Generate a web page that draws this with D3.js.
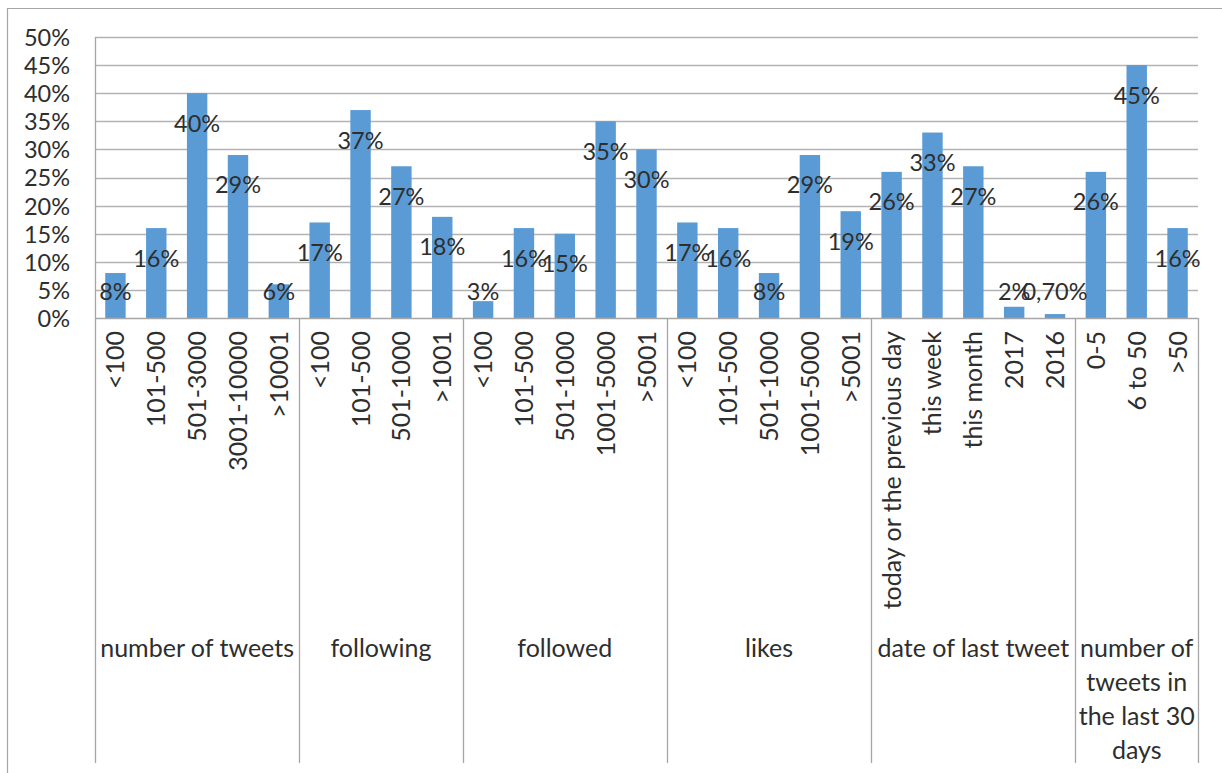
<!DOCTYPE html>
<html>
<head>
<meta charset="utf-8">
<script src="https://cdn.jsdelivr.net/npm/d3@7"></script>
<style>
  html, body { margin: 0; padding: 0; background: #fff; }
  svg text { font-family: Lato, "Open Sans", sans-serif; fill: #2e2e2e; }
</style>
</head>
<body>
<svg id="chart" width="1222" height="773"></svg>
<script>
// Survey groups, their answer categories and shares (%)
const groups = [
  "number of tweets",
  "following",
  "followed",
  "likes",
  "date of last tweet",
  "number of tweets in the last 30 days"
];
const categories = [
  ["<100", "101-500", "501-3000", "3001-10000", ">10001"],
  ["<100", "101-500", "501-1000", ">1001"],
  ["<100", "101-500", "501-1000", "1001-5000", ">5001"],
  ["<100", "101-500", "501-1000", "1001-5000", ">5001"],
  ["today or the previous day", "this week", "this month", "2017", "2016"],
  ["0-5", "6 to 50", ">50"]
];
const values = [
  [8, 16, 40, 29, 6],
  [17, 37, 27, 18],
  [3, 16, 15, 35, 30],
  [17, 16, 8, 29, 19],
  [26, 33, 27, 2, 0.7],
  [26, 45, 16]
];
const yTicks = [0, 5, 10, 15, 20, 25, 30, 35, 40, 45, 50];

(function draw() {
  // Flatten into one row per bar
  const rows = [];
  groups.forEach((g, gi) => {
    categories[gi].forEach((c, ci) => {
      rows.push({ group: gi, cat: c, value: values[gi][ci], idx: rows.length });
    });
  });

  const svg = d3.select("#chart");
  const plotLeft = 95, plotRight = 1198, plotTop = 37, plotBase = 318, frameBottom = 763;
  const numSize = 23.5;   // percentages
  const wordSize = 25;    // category and group names

  const x = d3.scaleBand().domain(rows.map(r => r.idx)).range([plotLeft, plotRight])
    .paddingInner(0.5).paddingOuter(0.25);
  const y = d3.scaleLinear().domain([0, 50]).range([plotBase, plotTop]);

  // outer chart frame (left and top edges)
  svg.append("path")
    .attr("d", "M7.5,773 V8.5 H1222")
    .attr("fill", "none").attr("stroke", "#a6a6a6").attr("stroke-width", 1.2);

  // horizontal gridlines
  svg.append("g").selectAll("line").data(yTicks.filter(t => t > 0)).join("line")
    .attr("x1", plotLeft).attr("x2", plotRight)
    .attr("y1", d => Math.round(y(d)) + 0.5).attr("y2", d => Math.round(y(d)) + 0.5)
    .attr("stroke", "#b3b3b3").attr("stroke-width", 1.3);

  // y axis labels
  const yAxis = d3.axisLeft(y).tickValues(yTicks).tickFormat(d => d + "%").tickSize(0).tickPadding(25);
  const ya = svg.append("g").attr("transform", `translate(${plotLeft},0)`).call(yAxis);
  ya.select(".domain").remove();
  ya.selectAll("text").attr("font-size", numSize).attr("font-family", "Lato").attr("fill", "#2e2e2e").attr("dy", "0.36em");

  // bars
  svg.append("g").selectAll("rect").data(rows).join("rect")
    .attr("x", d => x(d.idx))
    .attr("width", x.bandwidth())
    .attr("y", d => y(d.value))
    .attr("height", d => y(0) - y(d.value))
    .attr("fill", "#5b9bd5");

  // value labels
  const fmt = v => Number.isInteger(v) ? v + "%" : v.toFixed(2).replace(".", ",") + "%";
  svg.append("g").selectAll("text").data(rows).join("text")
    .attr("x", d => x(d.idx) + x.bandwidth() / 2)
    .attr("y", d => Math.min(y(d.value) + 30, 292))
    .attr("dy", "0.36em")
    .attr("text-anchor", "middle")
    .attr("font-size", numSize)
    .text(d => fmt(d.value));

  // axis lines
  const axisColor = "#a6a6a6";
  svg.append("line").attr("x1", plotLeft).attr("x2", plotRight).attr("y1", plotBase + 0.5).attr("y2", plotBase + 0.5)
    .attr("stroke", axisColor).attr("stroke-width", 1.3);
  svg.append("line").attr("x1", plotLeft + 0.5).attr("x2", plotLeft + 0.5).attr("y1", plotTop).attr("y2", frameBottom)
    .attr("stroke", axisColor).attr("stroke-width", 1.3);

  // group boundaries
  const bounds = [];
  let acc = 0;
  groups.forEach((g, gi) => {
    const start = acc;
    acc += categories[gi].length;
    bounds.push({ gi, start, end: acc });
  });
  const bx = i => plotLeft + (plotRight - plotLeft) * i / rows.length;
  svg.append("g").selectAll("line").data(bounds).join("line")
    .attr("x1", d => Math.round(bx(d.end)) + 0.5).attr("x2", d => Math.round(bx(d.end)) + 0.5)
    .attr("y1", plotBase).attr("y2", frameBottom)
    .attr("stroke", axisColor).attr("stroke-width", 1.3);

  // category labels, rotated
  svg.append("g").selectAll("text").data(rows).join("text")
    .attr("transform", d => `translate(${x(d.idx) + x.bandwidth() / 2},331) rotate(-90)`)
    .attr("text-anchor", "end")
    .attr("dy", "0.36em")
    .attr("font-size", wordSize)
    .text(d => d.cat);

  // group labels, wrapped to the group width
  const gl = svg.append("g");
  bounds.forEach(b => {
    const cx = (bx(b.start) + bx(b.end)) / 2;
    const maxW = bx(b.end) - bx(b.start) - 2;
    const t = gl.append("text").attr("text-anchor", "middle").attr("font-size", wordSize).attr("x", cx);
    const words = groups[b.gi].split(" ");
    let line = [];
    const lines = [];
    const probe = gl.append("text").attr("font-size", wordSize);
    words.forEach(w => {
      const trial = line.concat(w).join(" ");
      probe.text(trial);
      if (probe.node().getComputedTextLength() > maxW && line.length) {
        lines.push(line.join(" "));
        line = [w];
      } else {
        line.push(w);
      }
    });
    lines.push(line.join(" "));
    probe.remove();
    lines.forEach((ln, i) => {
      t.append("tspan").attr("x", cx).attr("y", 648 + i * 34).attr("dy", "0.36em").text(ln);
    });
  });
})();
</script>
</body>
</html>
